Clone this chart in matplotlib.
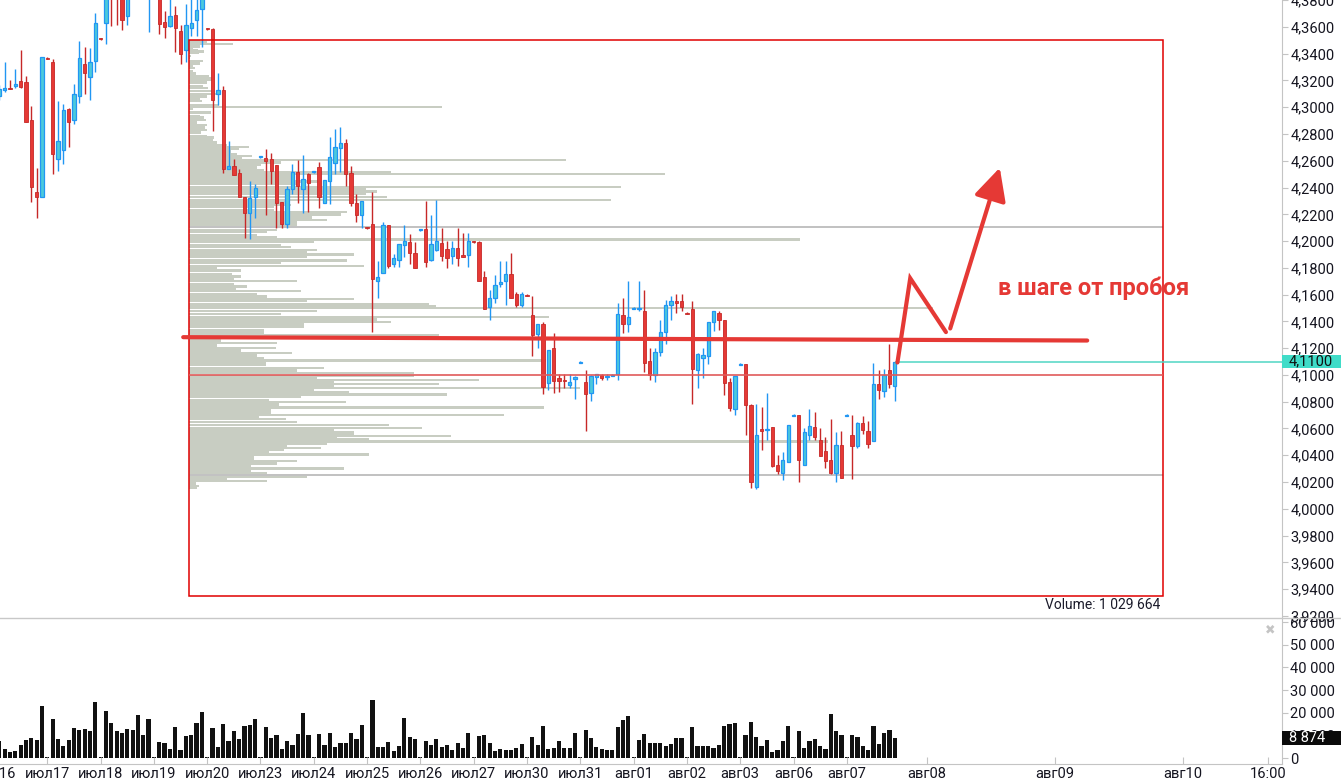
import numpy as np
import matplotlib
matplotlib.use("Agg")
import matplotlib.pyplot as plt
import matplotlib.transforms as mtrans
from matplotlib.patches import Rectangle
from matplotlib.lines import Line2D

plt.rcParams['font.family'] = ['Roboto', 'DejaVu Sans']

#-----------------------------------------------
# hourly candles, bar 1 .. 169 (10 bars per trading day)

opens = [4.3085, 4.3130, 4.3145, 4.3160, 4.3197, 4.3190, 4.2906, 4.2369, 4.2332, 4.3369,
         4.3339, 4.2615, 4.2682, 4.2988, 4.2906, 4.3085, 4.3324, 4.3227, 4.3346, 4.3518,
         4.3630, 4.3950, 4.3900, 4.3870, 4.3682, 4.3850, 4.3900, 4.3950, 4.3850, 4.3950,
         4.3920, 4.3637, 4.3608, 4.3690, 4.3570, 4.3428, 4.3593, 4.3652, 4.3734, 4.3593,
         4.3585, 4.3100, 4.3130, 4.2541, 4.2563, 4.2511, 4.2332, 4.2212, 4.2332, 4.2627,
         4.2623, 4.2615, 4.2571, 4.2295, 4.2130, 4.2392, 4.2518, 4.2392, 4.2503, 4.2515,
         4.2556, 4.2287, 4.2451, 4.2585, 4.2697, 4.2735, 4.2511, 4.2287, 4.2198, 4.2104,
         4.2130, 4.1705, 4.1765, 4.2123, 4.1832, 4.1862, 4.1974, 4.1996, 4.1914, 4.2082,
         4.2093, 4.1862, 4.1937, 4.1989, 4.1944, 4.1892, 4.1951, 4.1899, 4.1899, 4.2000,
         4.1996, 4.1728, 4.1511, 4.1571, 4.1683, 4.1698, 4.1757, 4.1601, 4.1526, 4.1597,
         4.1444, 4.1302, 4.1384, 4.0937, 4.1198, 4.0974, 4.0959, 4.0922, 4.0967, 4.1090,
         4.0944, 4.0862, 4.0982, 4.0997, 4.0982, 4.0989, 4.1004, 4.1444, 4.1384, 4.1493,
         4.1489, 4.1481, 4.1101, 4.0997, 4.1168, 4.1317, 4.1519, 4.1549, 4.1549, 4.1463,
         4.1496, 4.1034, 4.1123, 4.1138, 4.1392, 4.1466, 4.1407, 4.0944, 4.0743, 4.1075,
         4.1079, 4.0773, 4.0161, 4.0594, 4.0590, 4.0609, 4.0325, 4.0265, 4.0349, 4.0694,
         4.0698, 4.0325, 4.0549, 4.0609, 4.0512, 4.0430, 4.0362, 4.0265, 4.0474, 4.0694,
         4.0549, 4.0467, 4.0638, 4.0579, 4.0504, 4.0929, 4.0877, 4.1034, 4.0914]

highs = [4.3167, 4.3339, 4.3205, 4.3287, 4.3428, 4.3235, 4.3011, 4.2548, 4.3376, 4.3376,
         4.3361, 4.3048, 4.3026, 4.2996, 4.3175, 4.3496, 4.3451, 4.3443, 4.3704, 4.3518,
         4.3880, 4.3980, 4.3960, 4.3920, 4.3900, 4.3950, 4.4000, 4.4000, 4.4000, 4.3990,
         4.3960, 4.3719, 4.3830, 4.3757, 4.3615, 4.3772, 4.3820, 4.3840, 4.3860, 4.3593,
         4.3593, 4.3257, 4.3160, 4.2750, 4.2615, 4.2541, 4.2332, 4.2451, 4.2429, 4.2638,
         4.2690, 4.2660, 4.2571, 4.2295, 4.2414, 4.2578, 4.2608, 4.2645, 4.2511, 4.2526,
         4.2593, 4.2459, 4.2779, 4.2839, 4.2854, 4.2765, 4.2563, 4.2354, 4.2302, 4.2108,
         4.2369, 4.1854, 4.2145, 4.2123, 4.1907, 4.1981, 4.2123, 4.2056, 4.1996, 4.2093,
         4.2302, 4.2198, 4.2309, 4.2101, 4.2004, 4.2004, 4.2101, 4.2063, 4.2063, 4.2004,
         4.2004, 4.1780, 4.1638, 4.1743, 4.1854, 4.1854, 4.1914, 4.1616, 4.1616, 4.1601,
         4.1593, 4.1384, 4.1392, 4.1183, 4.1310, 4.1004, 4.1004, 4.1004, 4.0989, 4.1101,
         4.1034, 4.0997, 4.1004, 4.1004, 4.1004, 4.1004, 4.1541, 4.1578, 4.1698, 4.1504,
         4.1698, 4.1638, 4.1198, 4.1198, 4.1414, 4.1563, 4.1593, 4.1601, 4.1608, 4.1467,
         4.1556, 4.1161, 4.1198, 4.1392, 4.1481, 4.1481, 4.1407, 4.0974, 4.0989, 4.1086,
         4.1079, 4.0780, 4.0780, 4.0758, 4.0862, 4.0609, 4.0400, 4.0422, 4.0624, 4.0706,
         4.0698, 4.0601, 4.0743, 4.0720, 4.0601, 4.0534, 4.0668, 4.0571, 4.0579, 4.0706,
         4.0698, 4.0646, 4.0691, 4.0653, 4.1086, 4.1034, 4.1041, 4.1228, 4.1100]

lows = [4.3055, 4.3115, 4.3138, 4.3145, 4.3145, 4.2891, 4.2295, 4.2175, 4.2332, 4.3361,
        4.2503, 4.2526, 4.2578, 4.2705, 4.2876, 4.3033, 4.3100, 4.3055, 4.3264, 4.3503,
        4.3473, 4.3608, 4.3615, 4.3578, 4.3615, 4.3810, 4.3860, 4.3850, 4.3563, 4.3850,
        4.3548, 4.3518, 4.3600, 4.3414, 4.3324, 4.3339, 4.3533, 4.3533, 4.3451, 4.3578,
        4.2824, 4.3018, 4.2511, 4.2541, 4.2496, 4.2332, 4.2026, 4.2018, 4.2175, 4.2623,
        4.2198, 4.2429, 4.2101, 4.2101, 4.2101, 4.2354, 4.2287, 4.2212, 4.2220, 4.2511,
        4.2250, 4.2287, 4.2280, 4.2503, 4.2518, 4.2414, 4.2265, 4.2145, 4.2101, 4.2093,
        4.1317, 4.1578, 4.1765, 4.1802, 4.1810, 4.1810, 4.1884, 4.1825, 4.1802, 4.2078,
        4.1810, 4.1854, 4.1929, 4.1854, 4.1802, 4.1832, 4.1817, 4.1884, 4.1810, 4.1989,
        4.1698, 4.1496, 4.1414, 4.1541, 4.1660, 4.1519, 4.1571, 4.1504, 4.1504, 4.1586,
        4.1138, 4.1198, 4.0855, 4.0885, 4.0862, 4.0870, 4.0900, 4.0900, 4.0817, 4.1086,
        4.0579, 4.0803, 4.0929, 4.0959, 4.0959, 4.0989, 4.0959, 4.1310, 4.1317, 4.1489,
        4.1474, 4.1019, 4.0959, 4.0944, 4.1138, 4.1228, 4.1414, 4.1459, 4.1474, 4.1452,
        4.0780, 4.0900, 4.0974, 4.1079, 4.1325, 4.1332, 4.0847, 4.0728, 4.0698, 4.1071,
        4.0549, 4.0154, 4.0146, 4.0437, 4.0512, 4.0310, 4.0258, 4.0213, 4.0349, 4.0691,
        4.0198, 4.0325, 4.0512, 4.0512, 4.0392, 4.0303, 4.0258, 4.0198, 4.0228, 4.0691,
        4.0221, 4.0452, 4.0556, 4.0452, 4.0504, 4.0817, 4.0832, 4.0900, 4.0803]

closes = [4.3138, 4.3145, 4.3138, 4.3175, 4.3152, 4.2891, 4.2406, 4.2332, 4.3376, 4.3361,
          4.2653, 4.2750, 4.2981, 4.2891, 4.3100, 4.3369, 4.3257, 4.3339, 4.3630, 4.3510,
          4.3850, 4.3820, 4.3840, 4.3652, 4.3850, 4.3900, 4.3950, 4.3900, 4.3950, 4.3920,
          4.3622, 4.3600, 4.3682, 4.3593, 4.3399, 4.3615, 4.3630, 4.3727, 4.3830, 4.3585,
          4.3055, 4.3130, 4.2541, 4.2563, 4.2496, 4.2332, 4.2212, 4.2324, 4.2399, 4.2634,
          4.2600, 4.2526, 4.2287, 4.2130, 4.2392, 4.2518, 4.2414, 4.2466, 4.2436, 4.2522,
          4.2332, 4.2459, 4.2630, 4.2705, 4.2735, 4.2503, 4.2287, 4.2198, 4.2302, 4.2097,
          4.1720, 4.1735, 4.2123, 4.1817, 4.1877, 4.1981, 4.2004, 4.1914, 4.1802, 4.2090,
          4.1847, 4.1981, 4.2004, 4.1892, 4.1877, 4.1951, 4.1877, 4.1884, 4.2004, 4.1993,
          4.1705, 4.1496, 4.1578, 4.1675, 4.1690, 4.1757, 4.1571, 4.1519, 4.1608, 4.1590,
          4.1295, 4.1384, 4.0907, 4.1183, 4.0952, 4.0952, 4.0952, 4.0944, 4.0982, 4.1097,
          4.0855, 4.0989, 4.1004, 4.0974, 4.0989, 4.0997, 4.1452, 4.1384, 4.1429, 4.1500,
          4.1496, 4.1086, 4.0997, 4.1168, 4.1317, 4.1519, 4.1549, 4.1534, 4.1511, 4.1455,
          4.1041, 4.1153, 4.1146, 4.1392, 4.1474, 4.1407, 4.0937, 4.0750, 4.0989, 4.1082,
          4.0773, 4.0198, 4.0549, 4.0579, 4.0597, 4.0318, 4.0280, 4.0362, 4.0624, 4.0702,
          4.0362, 4.0571, 4.0616, 4.0534, 4.0392, 4.0355, 4.0265, 4.0474, 4.0228, 4.0702,
          4.0467, 4.0638, 4.0586, 4.0482, 4.0929, 4.0885, 4.0997, 4.0929, 4.1100]

volumes = [7390, 3850, 2670, 3110, 5620, 7830, 8720, 7830, 22880, 310,
           17120, 8270, 5180, 7830, 13140, 12400, 12700, 11810, 24640, 300,
           20660, 15350, 11810, 10930, 12700, 12260, 19040, 10050, 17120, 300,
           6950, 6500, 3850, 13580, 3410, 9600, 10050, 15350, 20220, 300,
           13140, 4740, 14910, 7390, 11810, 8270, 14030, 14470, 17120, 300,
           13580, 8720, 10050, 3850, 7390, 5620, 10490, 19780, 10050, 300,
           10490, 5620, 10930, 4740, 6500, 6500, 10930, 8270, 14470, 310,
           25530, 4740, 4740, 6950, 2960, 5180, 17570, 9160, 8270, 310,
           7390, 5620, 8270, 4740, 5620, 3410, 6500, 4290, 10930, 300,
           9600, 10050, 6500, 2960, 3850, 3410, 3410, 4290, 6060, 300,
           9160, 5620, 14030, 3850, 4290, 7390, 4290, 4290, 10930, 300,
           12260, 8720, 4740, 4120, 3680, 3380, 13670, 16610, 18380, 300,
           7790, 10440, 6470, 6470, 6470, 5150, 6030, 8670, 8670, 300,
           13520, 5150, 5150, 5150, 4260, 5590, 13970, 14850, 15290, 300,
           10000, 15730, 9110, 5150, 7790, 2500, 3380, 7350, 13970, 300,
           11760, 4290, 7390, 8270, 5180, 3850, 19340, 11810, 10050, 310,
           10050, 9160, 5180, 3410, 14030, 6060, 10930, 12260, 8874]

bars = np.arange(1, len(closes) + 1)

# volume profile of the boxed period (price level, relative volume)
profile_price = [4.3496, 4.3483, 4.3471, 4.3453, 4.3441, 4.3426, 4.3416, 4.3404, 4.3381, 4.3367,
                 4.3346, 4.3326, 4.3309, 4.3292, 4.3272, 4.3252, 4.3234, 4.3217, 4.3202, 4.3184,
                 4.3160, 4.3143, 4.3123, 4.3098, 4.3080, 4.3065, 4.3048, 4.3016, 4.3003, 4.2986,
                 4.2961, 4.2936, 4.2923, 4.2904, 4.2886, 4.2869, 4.2849, 4.2829, 4.2812, 4.2787,
                 4.2774, 4.2755, 4.2737, 4.2720, 4.2705, 4.2688, 4.2670, 4.2650, 4.2638, 4.2621,
                 4.2606, 4.2588, 4.2568, 4.2550, 4.2533, 4.2518, 4.2501, 4.2483, 4.2464, 4.2446,
                 4.2431, 4.2406, 4.2389, 4.2371, 4.2352, 4.2327, 4.2307, 4.2289, 4.2272, 4.2252,
                 4.2233, 4.2215, 4.2198, 4.2177, 4.2160, 4.2140, 4.2123, 4.2083, 4.2066, 4.2046,
                 4.2028, 4.2011, 4.1991, 4.1972, 4.1954, 4.1934, 4.1916, 4.1899, 4.1879, 4.1854,
                 4.1834, 4.1812, 4.1797, 4.1780, 4.1755, 4.1735, 4.1715, 4.1700, 4.1681, 4.1660,
                 4.1643, 4.1625, 4.1606, 4.1586, 4.1569, 4.1551, 4.1531, 4.1511, 4.1499, 4.1476,
                 4.1457, 4.1431, 4.1414, 4.1394, 4.1377, 4.1357, 4.1332, 4.1315, 4.1300, 4.1280,
                 4.1258, 4.1240, 4.1220, 4.1200, 4.1183, 4.1166, 4.1146, 4.1129, 4.1108, 4.1091,
                 4.1076, 4.1054, 4.1034, 4.1014, 4.0994, 4.0977, 4.0961, 4.0945, 4.0930, 4.0914,
                 4.0900, 4.0886, 4.0872, 4.0853, 4.0835, 4.0815, 4.0797, 4.0780, 4.0756, 4.0735,
                 4.0718, 4.0703, 4.0685, 4.0668, 4.0648, 4.0624, 4.0606, 4.0591, 4.0575, 4.0560,
                 4.0545, 4.0531, 4.0517, 4.0503, 4.0487, 4.0469, 4.0454, 4.0437, 4.0420, 4.0405,
                 4.0387, 4.0370, 4.0355, 4.0338, 4.0320, 4.0301, 4.0283, 4.0268, 4.0238, 4.0221,
                 4.0206, 4.0189, 4.0171, 4.0156]
profile_vol = [11, 18, 44, 11, 4, 9, 15, 10, 2, 1,
               14, 11, 4, 6, 4, 7, 20, 24, 24, 18,
               14, 19, 24, 31, 18, 11, 13, 30, 253, 4,
               22, 11, 15, 17, 8, 18, 16, 18, 12, 18,
               25, 24, 28, 38, 60, 50, 42, 48, 63, 53,
               377, 92, 72, 68, 75, 202, 476, 102, 105, 132,
               108, 432, 177, 188, 177, 198, 422, 98, 102, 85,
               85, 158, 152, 123, 138, 108, 108, 88, 78, 68,
               88, 611, 125, 92, 102, 128, 118, 165, 118, 158,
               92, 175, 28, 52, 43, 52, 45, 108, 45, 58,
               47, 112, 68, 78, 165, 118, 240, 247, 744, 128,
               92, 360, 188, 202, 115, 115, 75, 75, 250, 60,
               32, 88, 28, 87, 52, 103, 68, 75, 357, 77,
               77, 135, 108, 225, 225, 128, 290, 145, 250, 145,
               391, 125, 160, 258, 112, 80, 157, 90, 355, 82,
               82, 315, 70, 97, 108, 200, 233, 145, 165, 165,
               262, 148, 180, 639, 138, 98, 132, 95, 80, 180,
               65, 65, 108, 88, 62, 155, 62, 78, 118, 38,
               78, 7, 10, 8]
profile_vol_per_bar = 5.33
value_area_lines = [4.2103, 4.0256]

# x axis: day starts (bar index) and labels
day_ticks = [10, 20, 30, 40, 50, 60, 70, 80, 90, 100, 110, 120, 130, 140, 150, 160,
             175, 199, 223, 239]
day_labels = ['июл17', 'июл18', 'июл19', 'июл20', 'июл23', 'июл24', 'июл25', 'июл26',
              'июл27', 'июл30', 'июл31', 'авг01', 'авг02', 'авг03', 'авг06', 'авг07',
              'авг08', 'авг09', 'авг10', '16:00']

# drawn objects: profile box, levels, hand drawing
box_x = [36.5, 219.4]
box_y = [3.9348, 4.3501]
level_price = 4.1000
last_price = 4.1100
hand_line_x = [35.5, 205.1]
hand_line_y = [4.1282, 4.1257]
zigzag_x = [169.5, 171.9, 178.6]
zigzag_y = [4.1093, 4.1722, 4.1320]
arrow_from = (179.4, 4.1347)
arrow_to = (188.7, 4.2548)

RED = '#e53935'
RED_DK = '#c62828'
BLUE = '#2196f3'
BLUE_FILL = '#4cc9dc'
GRID = '#c4c4c4'

#-----------------------------------------------

W, H = 1341, 778
fig = plt.figure(figsize=(W / 100, H / 100), dpi=100)
ax = fig.add_axes([0, 160 / H, 1282 / W, 618 / H])
axv = fig.add_axes([0, 14 / H, 1282 / W, 146 / H], sharex=ax)

o = np.array(opens); h = np.array(highs); l = np.array(lows); c = np.array(closes)
up = c >= o

# volume profile
ax.barh(profile_price, np.array(profile_vol) / profile_vol_per_bar, left=box_x[0],
        height=0.0017, color='#c8cdc2', linewidth=0, zorder=1)
ax.hlines(value_area_lines, box_x[0], box_x[1], color='#b0b0b0', lw=1.1, zorder=1)

# candles
ax.vlines(bars[up], l[up], h[up], color=BLUE, lw=1.0, zorder=2)
ax.vlines(bars[~up], l[~up], h[~up], color=RED_DK, lw=1.0, zorder=2)
body = np.maximum(np.abs(c - o), 0.0008)
ax.bar(bars[up], body[up], bottom=np.minimum(o, c)[up], width=0.62,
       color=BLUE_FILL, edgecolor=BLUE, linewidth=0.9, zorder=3)
ax.bar(bars[~up], body[~up], bottom=np.minimum(o, c)[~up], width=0.62,
       color=RED, edgecolor=RED_DK, linewidth=0.6, zorder=3)

# levels and box
ax.add_patch(Rectangle((box_x[0], box_y[0]), box_x[1] - box_x[0], box_y[1] - box_y[0],
                       fill=False, edgecolor='#e00000', lw=1.1, zorder=4))
ax.hlines(level_price, box_x[0], box_x[1], color='#e05a5a', lw=1.2, zorder=4)
ax.hlines(last_price, bars[-1], 242, color='#4fd6c4', lw=1.1, zorder=4)
ax.text(box_x[1] - 0.6, box_y[0] - 0.0067, 'Volume: 1 029 664', ha='right', va='center',
        fontsize=10, color='#1a1a2a')

# hand drawing
ax.plot(hand_line_x, hand_line_y, color=RED, lw=3.0, solid_capstyle='round', zorder=5)
ax.plot(zigzag_x, zigzag_y, color=RED, lw=3.0, solid_capstyle='round',
        solid_joinstyle='miter', zorder=5)
ax.annotate('', xy=arrow_to, xytext=arrow_from, zorder=5,
            arrowprops=dict(arrowstyle='-|>,head_length=0.9,head_width=0.45',
                            color=RED, lw=3.0, mutation_scale=22, shrinkA=0, shrinkB=0))
ax.text(188.3, 4.1646, 'в шаге от пробоя', color=RED, fontsize=17, fontweight='bold',
        ha='left', va='center', zorder=5)

# volume bars
axv.bar(bars, volumes, width=0.78, color='#111111', linewidth=0)

#-----------------------------------------------
# axes styling

ax.set_xlim(1.126, 241.65)
ax.set_ylim(3.9184, 4.3801)
axv.set_ylim(-2647, 61765)

ax.yaxis.tick_right()
ax.set_yticks(np.round(np.arange(3.92, 4.3801, 0.02), 2))
ax.set_yticklabels([('%.4f' % v).replace('.', ',') for v in np.round(np.arange(3.92, 4.3801, 0.02), 2)])
ax.tick_params(axis='y', direction='out', length=4, color=GRID, labelsize=10.5, pad=2,
               labelcolor='#151520')
ax.tick_params(axis='x', bottom=False, labelbottom=False)

axv.yaxis.tick_right()
vt = np.arange(0, 60001, 10000)
axv.set_yticks(vt)
axv.set_yticklabels([('{:,}'.format(v)).replace(',', ' ') for v in vt])
axv.tick_params(axis='y', direction='out', length=4, color=GRID, labelsize=10.5, pad=2,
                labelcolor='#151520')
axv.set_xticks(day_ticks)
axv.set_xticklabels(day_labels)
axv.tick_params(axis='x', direction='in', length=5, color=GRID, labelsize=10.5, pad=2,
                labelcolor='#151520')
axv.annotate('июл16', xy=(0, 0), xycoords=('data', 'axes fraction'), xytext=(0, -2),
             textcoords='offset points', ha='center', va='top', fontsize=10.5,
             color='#151520', annotation_clip=False)

for a in (ax, axv):
    a.spines['top'].set_visible(False)
    a.spines['left'].set_visible(False)
    a.spines['right'].set_color(GRID)
    a.set_facecolor('none')
ax.spines['bottom'].set_visible(False)
axv.spines['bottom'].set_color(GRID)

# last price / last volume markers on the scales
tr = mtrans.blended_transform_factory(ax.transAxes, ax.transData)
ax.add_patch(Rectangle((1.0, last_price - 0.0049), W / 1282 - 1.0, 0.0098, transform=tr,
                       facecolor='#40dcc8', edgecolor='none', clip_on=False, zorder=10))
ax.text(1289 / 1282, last_price, ('%.4f' % last_price).replace('.', ','), transform=tr,
        ha='left', va='center', fontsize=10.5, color='#111111', zorder=11, clip_on=False)

trv = mtrans.blended_transform_factory(axv.transAxes, axv.transData)
axv.add_patch(Rectangle((1.0, volumes[-1] - 3100), W / 1282 - 1.0, 6200, transform=trv,
                        facecolor='#0a0a0a', edgecolor='none', clip_on=False, zorder=10))
axv.text(1289 / 1282, volumes[-1], '8 874', transform=trv, ha='left', va='center',
         fontsize=10.5, color='white', zorder=11, clip_on=False)

# panel separator and close icon
fig.add_artist(Line2D([0, 1], [1 - 618 / H, 1 - 618 / H], transform=fig.transFigure,
                      color='#c8c8c8', lw=1))
fig.text(1270 / W, 1 - 630 / H, '\u2716', family='DejaVu Sans', color='#c4c4c4',
         fontsize=9, ha='center', va='center')

fig.savefig('out.png', dpi=100)
